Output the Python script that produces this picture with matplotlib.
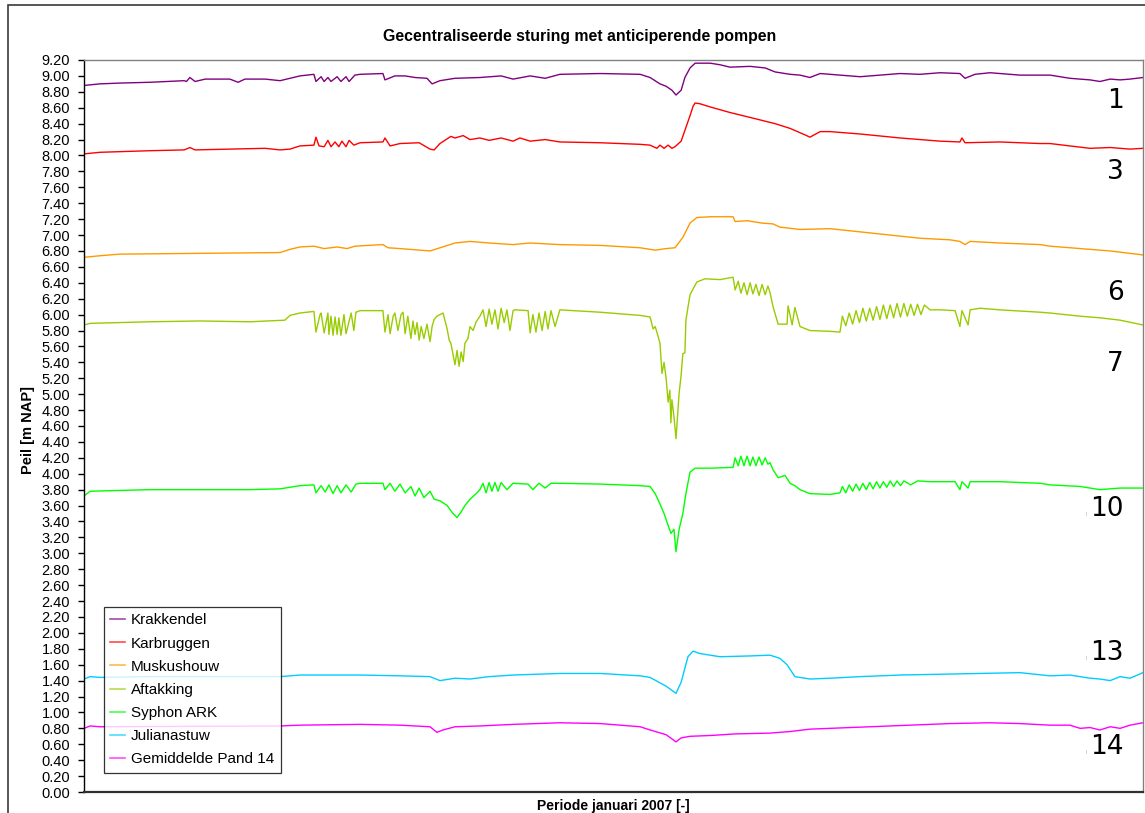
import matplotlib
matplotlib.use("Agg")
import matplotlib.pyplot as plt
from matplotlib.patches import Rectangle
from matplotlib.ticker import MultipleLocator, FormatStrFormatter

plt.rcParams["font.family"] = ["Liberation Sans", "DejaVu Sans"]

# Water levels [m NAP], January 2007; time in days since 1 January 00:00
t_krakkendel = [0.00, 0.47, 1.05, 1.93, 2.93, 3.00, 3.10, 3.25, 3.55, 4.27, 4.51, 4.71, 5.30, 5.74, 6.32, 6.73,
                6.79, 6.94, 7.03, 7.14, 7.23, 7.41, 7.52, 7.67, 7.76, 7.93, 8.08, 8.75, 8.81, 9.10, 9.40, 9.69,
                10.04, 10.19, 10.42, 10.86, 11.59, 12.21, 12.56, 13.06, 13.50, 13.93, 15.11, 16.28, 16.57, 16.86,
                17.04, 17.21, 17.33, 17.48, 17.59, 17.74, 17.89, 18.33, 18.62, 18.91, 19.50, 19.94, 20.23, 20.67,
                20.96, 21.25, 21.55, 22.13, 22.72, 23.30, 23.89, 24.47, 25.06, 25.64, 25.79, 26.08, 26.52, 27.40,
                28.28, 28.86, 29.45, 29.74, 30.04, 30.33, 30.62, 31.00]
v_krakkendel = [8.88, 8.90, 8.91, 8.92, 8.94, 8.93, 8.98, 8.93, 8.96, 8.96, 8.92, 8.96, 8.96, 8.94, 9.00, 9.02,
                8.93, 8.99, 8.93, 8.98, 8.93, 8.99, 8.93, 8.99, 8.93, 9.01, 9.02, 9.03, 8.95, 9.00, 9.00, 8.98,
                8.97, 8.90, 8.94, 8.97, 8.98, 9.00, 8.96, 9.00, 8.97, 9.02, 9.03, 9.02, 8.98, 8.90,
                8.87, 8.82, 8.76, 8.82, 8.98, 9.10, 9.16, 9.16, 9.14, 9.11, 9.12, 9.10, 9.05, 9.02,
                9.01, 8.98, 9.03, 9.01, 8.99, 9.01, 9.03, 9.02, 9.04, 9.03, 8.97, 9.02, 9.04, 9.01,
                9.01, 8.97, 8.95, 8.93, 8.96, 8.95, 8.96, 8.98]

t_karbruggen = [0.00, 0.47, 1.93, 2.93, 3.10, 3.25, 4.27, 5.30, 5.74, 6.03, 6.32, 6.73,
                6.79, 6.88, 7.03, 7.14, 7.23, 7.35, 7.46, 7.55, 7.67, 7.76, 7.90, 8.08, 8.75, 8.81, 8.96, 9.25,
                9.81, 10.13, 10.25, 10.42, 10.74, 10.86, 11.10, 11.30, 11.59, 11.86, 12.21, 12.56, 12.76, 13.06,
                13.50, 13.93, 15.11, 16.28, 16.57, 16.77, 16.86, 16.98, 17.10, 17.21, 17.30, 17.48, 17.74, 17.83,
                17.89, 18.03, 18.33, 18.91, 19.67, 20.23, 20.67, 21.10, 21.25, 21.55, 21.84, 22.72, 23.89, 25.06,
                25.64, 25.70, 25.79, 26.81, 27.99, 28.28, 28.86, 29.45, 30.04, 30.62, 31.00]
v_karbruggen = [8.02, 8.04, 8.06, 8.07, 8.10, 8.07, 8.08, 8.09, 8.07, 8.08, 8.12, 8.13,
                8.23, 8.12, 8.11, 8.19, 8.11, 8.17, 8.11, 8.18, 8.11, 8.19, 8.13, 8.16, 8.17, 8.22, 8.12, 8.15,
                8.16, 8.08, 8.07, 8.15, 8.24, 8.22, 8.25, 8.20, 8.22, 8.19, 8.22, 8.18, 8.22, 8.18,
                8.20, 8.17, 8.16, 8.14, 8.13, 8.09, 8.13, 8.09, 8.13, 8.09, 8.11, 8.18, 8.50, 8.62,
                8.66, 8.65, 8.61, 8.54, 8.46, 8.40, 8.34, 8.26, 8.23, 8.30, 8.30, 8.27, 8.22, 8.18,
                8.17, 8.22, 8.16, 8.17, 8.15, 8.15, 8.12, 8.09, 8.10, 8.08, 8.09]

t_muskushouw = [0.00, 0.47, 1.05, 3.40, 5.74, 6.03, 6.32, 6.73, 7.03, 7.41, 7.70, 7.93, 8.75, 8.90, 9.25,
                10.13, 10.42, 10.86, 11.30, 11.86, 12.56, 13.06, 13.93, 15.11, 16.28, 16.72, 17.04, 17.30,
                17.53, 17.74, 17.94, 18.33, 19.00, 19.06, 19.41, 19.85, 20.17, 20.37, 20.96, 21.84, 22.72,
                23.59, 24.47, 25.35, 25.64, 25.79, 25.94, 26.81, 27.99, 28.28, 29.16, 30.04, 31.00]
v_muskushouw = [6.72, 6.74, 6.76, 6.77, 6.78, 6.82, 6.85, 6.86, 6.83, 6.85, 6.83, 6.86, 6.88, 6.84, 6.83,
                6.80, 6.84, 6.90, 6.92, 6.90, 6.88, 6.90, 6.88, 6.87, 6.84, 6.81, 6.83, 6.84,
                6.97, 7.15, 7.22, 7.23, 7.23, 7.17, 7.18, 7.15, 7.14, 7.10, 7.07, 7.08, 7.04,
                7.00, 6.96, 6.94, 6.92, 6.88, 6.92, 6.90, 6.88, 6.86, 6.83, 6.80, 6.75]

t_aftakking = [0.00, 0.18, 1.93, 3.40, 4.86, 5.88, 6.03, 6.32, 6.73,
               6.79, 6.91, 6.94, 7.03, 7.14, 7.17, 7.23, 7.29, 7.35, 7.41, 7.46, 7.52, 7.61, 7.67, 7.82, 7.90,
               7.96, 8.08, 8.75,
               8.81, 8.90, 8.96, 9.05, 9.10, 9.19, 9.28, 9.34, 9.40, 9.48, 9.57, 9.63, 9.69, 9.75, 9.81, 9.87,
               9.95, 10.04, 10.13, 10.19, 10.25, 10.33, 10.42, 10.51,
               10.63, 10.69, 10.74, 10.86, 10.92, 10.98, 11.04, 11.10, 11.15, 11.24, 11.30, 11.39, 11.48, 11.59,
               11.68, 11.77, 11.86, 11.94, 12.03, 12.12, 12.21, 12.30, 12.38, 12.47, 12.56, 12.62, 13.00,
               13.06, 13.14, 13.23, 13.32, 13.41, 13.50, 13.58, 13.67, 13.79, 13.93, 15.11, 16.28, 16.57,
               16.66, 16.72, 16.77, 16.86, 16.92, 16.98, 17.04, 17.10, 17.15, 17.18, 17.21, 17.27, 17.33, 17.42,
               17.48, 17.53, 17.59, 17.62, 17.74, 17.94, 18.18, 18.62, 19.00,
               19.06, 19.15, 19.23, 19.32, 19.41, 19.50, 19.58, 19.67, 19.76, 19.85, 19.94, 20.02, 20.08,
               20.17, 20.32, 20.58, 20.61, 20.73, 20.81, 20.96, 21.25, 21.84, 22.13,
               22.20, 22.30, 22.40, 22.50, 22.60, 22.70, 22.80, 22.90, 23.00, 23.10, 23.20, 23.30, 23.40, 23.50,
               23.60, 23.70, 23.80, 23.90, 24.00, 24.10, 24.20, 24.30, 24.40, 24.50, 24.60, 24.77,
               25.06, 25.50, 25.64, 25.70, 25.88, 25.94, 26.23, 26.81, 27.99, 28.28, 29.16, 29.74, 30.33, 31.00]
v_aftakking = [5.87, 5.89, 5.91, 5.92, 5.91, 5.93, 5.99, 6.02, 6.04,
               5.78, 6.00, 6.02, 5.77, 6.02, 5.75, 5.98, 5.74, 5.97, 5.75, 5.96, 5.74, 6.00, 5.76, 6.02, 5.80,
               6.03, 6.05, 6.05,
               5.78, 6.00, 5.76, 5.98, 6.02, 5.80, 6.00, 6.03, 5.76, 5.98, 5.70, 5.92, 5.75, 5.90, 5.68, 5.85,
               5.70, 5.88, 5.66, 5.85, 5.94, 5.98, 6.00, 6.02,
               5.82, 5.68, 5.64, 5.37, 5.55, 5.35, 5.53, 5.41, 5.64, 5.70, 5.85, 5.80, 5.91, 5.98,
               6.06, 5.85, 6.07, 5.88, 6.06, 5.82, 6.08, 5.90, 6.06, 5.80, 6.05, 6.06, 6.05,
               5.77, 6.00, 5.78, 6.02, 5.80, 6.04, 5.82, 6.05, 5.85, 6.06, 6.03, 5.99, 5.97,
               5.82, 5.85, 5.78, 5.64, 5.26, 5.40, 5.20, 4.90, 5.05, 4.64, 4.93, 4.72, 4.44, 5.01,
               5.24, 5.51, 5.52, 5.93, 6.25, 6.41, 6.45, 6.44, 6.47,
               6.31, 6.42, 6.27, 6.40, 6.25, 6.40, 6.26, 6.38, 6.24, 6.38, 6.25, 6.36, 6.28,
               6.10, 5.88, 5.88, 6.11, 5.87, 6.09, 5.85, 5.80, 5.79, 5.78,
               5.98, 5.86, 6.02, 5.88, 6.05, 5.90, 6.08, 5.92, 6.08, 5.93, 6.10, 5.94, 6.12, 5.95,
               6.12, 5.96, 6.14, 5.97, 6.14, 5.98, 6.13, 5.99, 6.13, 6.00, 6.12, 6.06,
               6.06, 6.05, 5.85, 6.05, 5.87, 6.06, 6.08, 6.06, 6.03, 6.02, 5.98, 5.96, 5.93, 5.87]

t_syphon = [0.00, 0.18, 1.93, 4.86, 5.74, 6.32, 6.73,
            6.79, 6.94, 7.06, 7.17, 7.29, 7.41, 7.52, 7.67, 7.82, 7.96, 8.08, 8.75,
            8.81, 8.96, 9.10, 9.25, 9.40, 9.57, 9.69, 9.81, 9.95, 10.13, 10.25, 10.42,
            10.63, 10.80, 10.92, 11.04, 11.15, 11.30, 11.48,
            11.59, 11.68, 11.77, 11.86, 11.94, 12.03, 12.12, 12.21, 12.38, 12.56, 13.00, 13.14, 13.32, 13.50,
            13.67, 13.93, 15.11, 16.28, 16.57,
            16.72, 16.86, 16.98, 17.10, 17.18, 17.27, 17.33, 17.42, 17.53, 17.62, 17.74, 17.89, 18.33, 19.00,
            19.06, 19.15, 19.23, 19.32, 19.41, 19.50, 19.58, 19.67, 19.76, 19.85, 19.94, 20.02, 20.08,
            20.17, 20.32, 20.52, 20.67, 20.81, 20.96, 21.25, 21.84, 22.13,
            22.20, 22.30, 22.40, 22.50, 22.60, 22.70, 22.80, 22.90, 23.00, 23.10, 23.20, 23.30, 23.40, 23.50,
            23.60, 23.70, 23.80, 23.90, 24.00, 24.20, 24.40, 24.77,
            25.50, 25.64, 25.70, 25.88, 25.94, 26.81, 27.99, 28.28, 29.16, 29.74, 30.33, 31.00]
v_syphon = [3.72, 3.78, 3.80, 3.80, 3.81, 3.85, 3.86,
            3.76, 3.85, 3.77, 3.86, 3.75, 3.85, 3.76, 3.86, 3.77, 3.87, 3.88, 3.88,
            3.80, 3.88, 3.78, 3.87, 3.76, 3.84, 3.72, 3.82, 3.70, 3.78, 3.68, 3.66,
            3.60, 3.50, 3.45, 3.52, 3.60, 3.68, 3.75,
            3.80, 3.88, 3.76, 3.89, 3.78, 3.89, 3.78, 3.89, 3.80, 3.88, 3.87, 3.80, 3.88, 3.82,
            3.88, 3.88, 3.87, 3.85, 3.84,
            3.75, 3.62, 3.50, 3.35, 3.25, 3.30, 3.02, 3.30, 3.50, 3.75, 4.02, 4.07, 4.07, 4.08,
            4.20, 4.10, 4.22, 4.10, 4.22, 4.10, 4.21, 4.10, 4.21, 4.11, 4.20, 4.12, 4.14,
            4.05, 3.95, 3.98, 3.88, 3.85, 3.80, 3.75, 3.74, 3.76,
            3.84, 3.76, 3.86, 3.78, 3.87, 3.79, 3.88, 3.80, 3.89, 3.81, 3.90, 3.82, 3.90, 3.83,
            3.91, 3.84, 3.91, 3.85, 3.91, 3.86, 3.91, 3.90,
            3.90, 3.80, 3.90, 3.82, 3.90, 3.90, 3.88, 3.86, 3.84, 3.80, 3.82, 3.82]

t_julianastuw = [0.00, 0.18, 0.47, 1.93, 5.74, 6.32, 8.08, 9.25, 10.13, 10.42, 10.86, 11.30, 11.86, 12.56,
                 13.93, 15.11, 16.28, 16.57, 17.04, 17.33, 17.48, 17.68, 17.83, 18.03, 18.62, 19.50, 20.08,
                 20.37, 20.58, 20.81, 21.25, 21.84, 22.72, 23.89, 25.06, 26.23, 27.40, 28.28, 28.86, 29.45,
                 29.74, 30.04, 30.33, 30.62, 31.00]
v_julianastuw = [1.42, 1.45, 1.44, 1.45, 1.45, 1.47, 1.47, 1.46, 1.45, 1.40, 1.43, 1.42, 1.45, 1.47,
                 1.49, 1.49, 1.46, 1.44, 1.33, 1.24, 1.38, 1.70, 1.77, 1.74, 1.70, 1.71, 1.72,
                 1.68, 1.60, 1.45, 1.42, 1.43, 1.45, 1.47, 1.48, 1.49, 1.50, 1.46, 1.47, 1.43,
                 1.42, 1.40, 1.45, 1.43, 1.50]

t_pand14 = [0.00, 0.18, 0.47, 5.74, 6.32, 8.08, 9.25, 10.13, 10.33, 10.51, 10.86, 11.59, 12.56, 13.93,
            15.11, 16.28, 16.57, 17.04, 17.33, 17.48, 17.74, 18.33, 19.06, 20.08, 20.67, 21.25, 21.84,
            23.01, 24.18, 25.35, 26.52, 27.40, 28.28, 28.86, 29.16, 29.45, 29.74, 30.04, 30.33, 30.62, 31.00]
v_pand14 = [0.80, 0.83, 0.82, 0.83, 0.84, 0.85, 0.84, 0.82, 0.75, 0.78, 0.82, 0.83, 0.85, 0.87,
            0.86, 0.82, 0.78, 0.72, 0.63, 0.68, 0.70, 0.71, 0.73, 0.74, 0.76, 0.79, 0.80,
            0.82, 0.84, 0.86, 0.87, 0.86, 0.84, 0.84, 0.80, 0.81, 0.78, 0.82, 0.80, 0.84, 0.87]

series_names = ["Krakkendel", "Karbruggen", "Muskushouw", "Aftakking", "Syphon ARK",
                "Julianastuw", "Gemiddelde Pand 14"]
series_colors = ["#800080", "#FF0000", "#FF9900", "#99CC00", "#00FF00", "#00CCFF", "#FF00FF"]
series_t = [t_krakkendel, t_karbruggen, t_muskushouw, t_aftakking, t_syphon, t_julianastuw, t_pand14]
series_v = [v_krakkendel, v_karbruggen, v_muskushouw, v_aftakking, v_syphon, v_julianastuw, v_pand14]

# Station numbers written next to the lines, with the level they sit at
station_labels = ["1", "3", "6", "7", "10", "13", "14"]
station_levels = [8.68, 7.79, 6.27, 5.38, 3.56, 1.75, 0.56]

W, H = 1145, 813
fig = plt.figure(figsize=(W / 100, H / 100), dpi=100)

# Outer chart frame
fig.patches.append(Rectangle((8 / W, -0.2), 1.2, 1.2 - 5 / H, transform=fig.transFigure,
                             fill=False, edgecolor="#3a3a3a", linewidth=1.2))

ax = fig.add_axes([84 / W, (H - 792) / H, (1143 - 84) / W, (792 - 60) / H])

for t, v, name, col in zip(series_t, series_v, series_names, series_colors):
    ax.plot(t, v, color=col, linewidth=1.0, label=name)

ax.set_xlim(0, 31)
ax.set_ylim(0, 9.2)
ax.yaxis.set_major_locator(MultipleLocator(0.2))
ax.yaxis.set_major_formatter(FormatStrFormatter("%.2f"))
ax.set_xticks([])
ax.tick_params(axis="y", direction="out", length=4, width=1, color="black",
               labelsize=10.5, pad=6)

for side in ("top", "right"):
    ax.spines[side].set_color("#808080")
    ax.spines[side].set_linewidth(1.0)
ax.spines["left"].set_color("black")
ax.spines["left"].set_linewidth(1.0)
ax.spines["bottom"].set_color("#303030")
ax.spines["bottom"].set_linewidth(1.6)

leg = ax.legend(loc="upper left", bbox_to_anchor=((104 - 84) / (1143 - 84), (792 - 607) / (792 - 60)),
                borderaxespad=0, frameon=True, fancybox=False, shadow=False, fontsize=11.0,
                handlelength=0.95, handletextpad=0.4, labelspacing=0.6, borderpad=0.42)
leg.get_frame().set_edgecolor("black")
leg.get_frame().set_linewidth(0.9)
for line in leg.get_lines():
    line.set_alpha(0.7)
    line.set_linewidth(1.2)

fig.text(580 / W, 1 - 36 / H, "Gecentraliseerde sturing met anticiperende pompen",
         ha="center", va="center", fontsize=11.4, fontweight="bold")
fig.text(613 / W, 1 - 806 / H, "Periode januari 2007 [-]",
         ha="center", va="center", fontsize=10, fontweight="bold")
fig.text(28 / W, 1 - 430 / H, "Peil [m NAP]", rotation=90,
         ha="center", va="center", fontsize=10.5, fontweight="bold")

for lab, lev in zip(station_labels, station_levels):
    ax.text(0.982, lev, lab, transform=ax.get_yaxis_transform(), ha="right", va="center",
            fontsize=19, family="DejaVu Sans", color="black")

# small leftover marks in front of the lower station numbers
for lev in station_levels[4:]:
    ax.text(0.946, lev - 0.06, "|", transform=ax.get_yaxis_transform(), ha="center", va="center",
            fontsize=3, color="#909090")

fig.savefig("out.png", dpi=100)
